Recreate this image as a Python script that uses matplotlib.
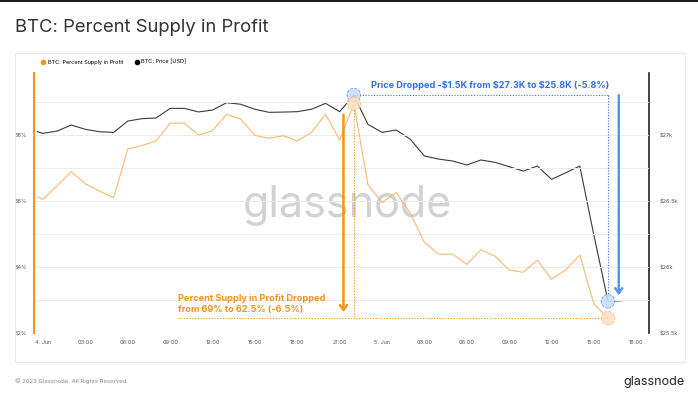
import numpy as np
import matplotlib
matplotlib.use("Agg")
import matplotlib.pyplot as plt
from matplotlib.lines import Line2D
from matplotlib.patches import Rectangle

plt.rcParams['font.family'] = ['Inter', 'DejaVu Sans']

# hours since 4 Jun 00:00
hours = [-0.4] + list(range(0, 42))
pct = [66.13, 66.05, 66.47, 66.89, 66.52, 66.30, 66.10, 67.58, 67.68, 67.82,
       68.36, 68.36, 68.00, 68.13, 68.63, 68.48, 67.99, 67.90, 67.98, 67.82,
       68.08, 68.63, 67.85, 68.95, 66.50, 65.95, 66.26, 65.63, 64.75, 64.39,
       64.39, 64.08, 64.52, 64.33, 63.91, 63.84, 64.21, 63.63, 63.91, 64.36,
       62.88, 62.45]
price = [27025, 27013, 27030, 27076, 27043, 27025, 27020, 27106, 27124, 27129,
         27202, 27202, 27175, 27189, 27245, 27233, 27195, 27172, 27174, 27177,
         27195, 27240, 27177, 27303, 27081, 27020, 27038, 26968, 26841, 26818,
         26803, 26773, 26811, 26793, 26760, 26727, 26765, 26664, 26714, 26765,
         26240, 25740, 25745]
xtick_pos = list(range(0, 43, 3))
xtick_labels = ["4. Jun", "03:00", "06:00", "09:00", "12:00", "15:00", "18:00",
                "21:00", "5. Jun", "03:00", "06:00", "09:00", "12:00", "15:00", "18:00"]
pct_ticks = [62, 63, 64, 65, 66, 67, 68, 69]
price_ticks = [25500, 26000, 26500, 27000]
price_labels = ["$25.5k", "$26k", "$26.5k", "$27k"]

ORANGE = "#f7931a"
LORANGE = "#fbb872"
BLUE = "#2f6ff0"
LBLUE = "#5b93f5"

hx_pct = hours[:len(pct)]
y_lo, y_hi = 62, 69.88
p_lo = 25500
p_hi = p_lo + (y_hi - y_lo) * 250

fig = plt.figure(figsize=(6.98, 4.03), dpi=100)
fig.patch.set_facecolor("white")

# card frame and top band
fig.patches.append(Rectangle((15/698, 1-362/403), 670/698, 309/403, transform=fig.transFigure,
                             fill=False, edgecolor="#ececec", lw=0.8))
fig.patches.append(Rectangle((0, 1-2/403), 1, 2/403, transform=fig.transFigure,
                             color="#1a1a1a", lw=0))

fig.text(15/698, 1-27/403, "BTC: Percent Supply in Profit", fontsize=13.3,
         color="#333333", va="center", ha="left")
fig.text(15/698, 1-381/403, "© 2023 Glassnode. All Rights Reserved.", fontsize=4.3,
         color="#8a8a8a", va="center", ha="left")
fig.text(685/698, 1-382/403, "glassnode", fontsize=9, color="#222222",
         va="center", ha="right")

ax = fig.add_axes([34/698, 1-333/403, 615/698, 260/403])
ax2 = ax.twinx()
ax.set_zorder(ax2.get_zorder() + 1)
ax.patch.set_visible(False)

ax.text(0.51, 0.49, "glassnode", transform=ax.transAxes, fontsize=31, color="#d2d2d2",
        ha="center", va="center", zorder=0)

ax.plot(hx_pct, pct, color=LORANGE, lw=0.8, zorder=2)
ax2.plot(hours, price, color="#3a3a3a", lw=0.8)

ax.set_xlim(-0.64, 42.9)
ax.set_ylim(y_lo, y_hi)
ax2.set_ylim(p_lo, p_hi)

ax.set_yticks(pct_ticks)
ax.set_yticklabels([f"{t}%" if t % 2 == 0 else "" for t in pct_ticks])
ax2.set_yticks(price_ticks)
ax2.set_yticklabels(price_labels)
ax.set_xticks(xtick_pos)
ax.set_xticklabels(xtick_labels)

ax.grid(axis="y", color="#ececec", lw=0.7)
ax.set_axisbelow(True)
for a in (ax, ax2):
    for s in a.spines.values():
        s.set_visible(False)
    a.tick_params(length=0, labelsize=4, labelcolor="#555555")
ax2.spines["right"].set_visible(True)
ax2.spines["right"].set_color("#222222")
ax2.spines["right"].set_linewidth(1.2)
ax.spines["left"].set_visible(True)
ax.spines["left"].set_color(ORANGE)
ax.spines["left"].set_linewidth(1.5)
ax.tick_params(axis="y", pad=5)
ax2.tick_params(axis="y", pad=8)
ax.tick_params(axis="x", pad=5)

# annotations
i_pk = int(np.argmax(pct))
i_end = len(pct) - 1
x_pk = hx_pct[i_pk]
x_end = hx_pct[i_end]
pk_price = price[i_pk]
end_price = price[i_end]

# blue (price) marks drawn in pct coordinates so they sit on top
def p2y(p):
    return y_lo + (p - p_lo) / 250

dots = (0, (1, 1.5))
ax.plot([x_pk, x_end], [p2y(pk_price), p2y(pk_price)], ls=dots, color=BLUE, lw=0.8)
ax.plot([x_end, x_end], [p2y(pk_price), p2y(end_price) + 0.15], ls=dots, color=BLUE, lw=0.8)
ax.annotate("", xy=(x_end + 0.76, p2y(end_price) + 0.1), xytext=(x_end + 0.76, p2y(pk_price) + 0.08),
            arrowprops=dict(arrowstyle="->,head_length=0.35,head_width=0.25", color=LBLUE, lw=1.8))
ax.text(x_end + 0.1, p2y(pk_price) + 0.28, "Price Dropped -$1.5K from $27.3K to $25.8K (-5.8%)",
        color=BLUE, fontsize=6.6, fontweight="bold", ha="right", va="center")

ax.plot([x_pk, x_pk], [pct[i_pk] - 0.2, pct[i_end]], ls=dots, color=ORANGE, lw=0.8)
ax.plot([9.55, x_end], [pct[i_end], pct[i_end]], ls=dots, color=ORANGE, lw=0.8)
ax.annotate("", xy=(x_pk - 0.73, pct[i_end] + 0.1), xytext=(x_pk - 0.73, pct[i_pk] - 0.25),
            arrowprops=dict(arrowstyle="->,head_length=0.35,head_width=0.25", color=ORANGE, lw=1.8))
ax.text(9.55, pct[i_end] + 0.14, "Percent Supply in Profit Dropped\nfrom 69% to 62.5% (-6.5%)",
        color=ORANGE, fontsize=6.6, fontweight="bold", ha="left", va="bottom", linespacing=1.25)

ax.scatter([x_pk, x_end], [p2y(pk_price), p2y(end_price)], s=95, facecolor="#c8dafc",
           edgecolor=LBLUE, linestyle="--", lw=0.6, alpha=0.85, zorder=4)
ax.scatter([x_pk, x_end], [pct[i_pk], pct[i_end]], s=95, facecolor="#fde0c2",
           edgecolor=LORANGE, linestyle="--", lw=0.6, alpha=0.85, zorder=4)

handles = [Line2D([], [], marker="o", ls="", color=ORANGE, markersize=3),
           Line2D([], [], marker="o", ls="", color="black", markersize=3)]
fig.legend(handles, ["BTC: Percent Supply in Profit", "BTC: Price [USD]"], loc="center left",
           bbox_to_anchor=(36/698, 1-62/403), ncol=2, frameon=False, fontsize=4,
           handletextpad=0.4, columnspacing=2.0, handlelength=0.8)

fig.savefig("out.png", dpi=100)
